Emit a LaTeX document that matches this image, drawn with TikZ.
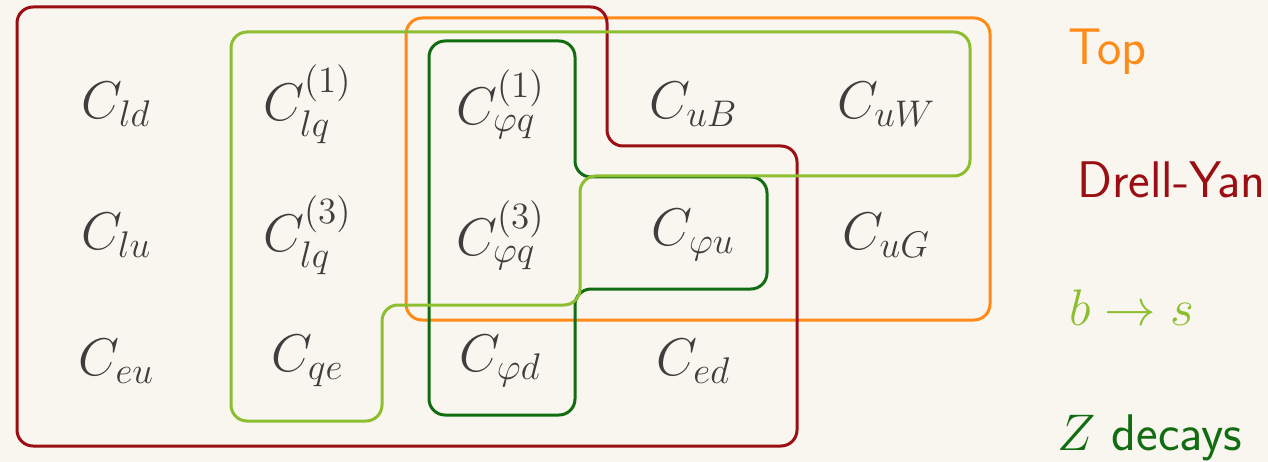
\documentclass[tikz,border=0pt]{standalone}
\DeclareFontShape{OML}{cmm}{m}{it}{<-> cmmi12}{}
\DeclareFontShape{OT1}{cmr}{m}{n}{<-> cmr12}{}
\DeclareFontShape{OMS}{cmsy}{m}{n}{<-> cmsy10}{}
\DeclareFontShape{OMX}{cmex}{m}{n}{<-> cmex10}{}
\usepackage{xcolor}
\definecolor{bg}{RGB}{249,246,239}
\definecolor{txt}{RGB}{62,62,62}
\definecolor{topc}{RGB}{255,138,24}
\definecolor{dyc}{RGB}{155,14,20}
\definecolor{bsc}{RGB}{140,190,48}
\definecolor{zc}{RGB}{18,108,18}
\begin{document}
\begin{tikzpicture}[x=1pt,y=-1pt,
  coef/.style={text=txt,inner sep=0pt,font=\fontsize{53}{63}\selectfont},
  setline/.style={line width=3pt,rounded corners=16pt},
  lbl/.style={anchor=base west,inner sep=0pt,font=\sffamily\fontsize{51.5}{61}\selectfont}]
\fill[bg] (0,0) rectangle (1268,462);
\useasboundingbox (0,0) rectangle (1268,462);
% sets
\draw[setline,topc] (406,18) rectangle (990,320);
\draw[setline,dyc] (17,7) -- (607,7) -- (607,146) -- (797,146) -- (797,446) -- (17,446) -- cycle;
\draw[setline,zc] (429,41) -- (575,41) -- (575,177) -- (767,177) -- (767,289) -- (575,289) -- (575,415) -- (429,415) -- cycle;
\draw[setline,bsc] (231,32) -- (970,32) -- (970,176) -- (580,176) -- (580,305) -- (382,305) -- (382,421) -- (231,421) -- cycle;
% coefficients
\node[coef] (ld)  at (116,104) {$C_{ld}$};
\node[coef] (lq1) at (307,104) {$C_{lq}^{(1)}$};
\node[coef] (pq1) at (500,104) {$C_{\varphi q}^{(1)}$};
\node[coef] (uB)  at (693,104) {$C_{uB}$};
\node[coef] (uW)  at (886,104) {$C_{uW}$};
\node[coef] (lu)  at (116,235) {$C_{lu}$};
\node[coef] (lq3) at (307,235) {$C_{lq}^{(3)}$};
\node[coef] (pq3) at (500,235) {$C_{\varphi q}^{(3)}$};
\node[coef] (pu)  at (693,235) {$C_{\varphi u}$};
\node[coef] (uG)  at (886,235) {$C_{uG}$};
\node[coef] (eu)  at (116,361) {$C_{eu}$};
\node[coef] (qe)  at (307,361) {$C_{qe}$};
\node[coef] (pd)  at (500,361) {$C_{\varphi d}$};
\node[coef] (ed)  at (693,361) {$C_{ed}$};
% labels
\node[lbl,text=topc] (ltop) at (1068,65) {Top};
\node[lbl,text=dyc] (ldy) at (1077,198) {Drell-Yan};
\node[lbl,text=bsc] (lbs) at (1069,325) {$b\to s$};
\node[lbl,text=zc] (lz) at (1057,450) {$Z$ decays};
\end{tikzpicture}
\end{document}
